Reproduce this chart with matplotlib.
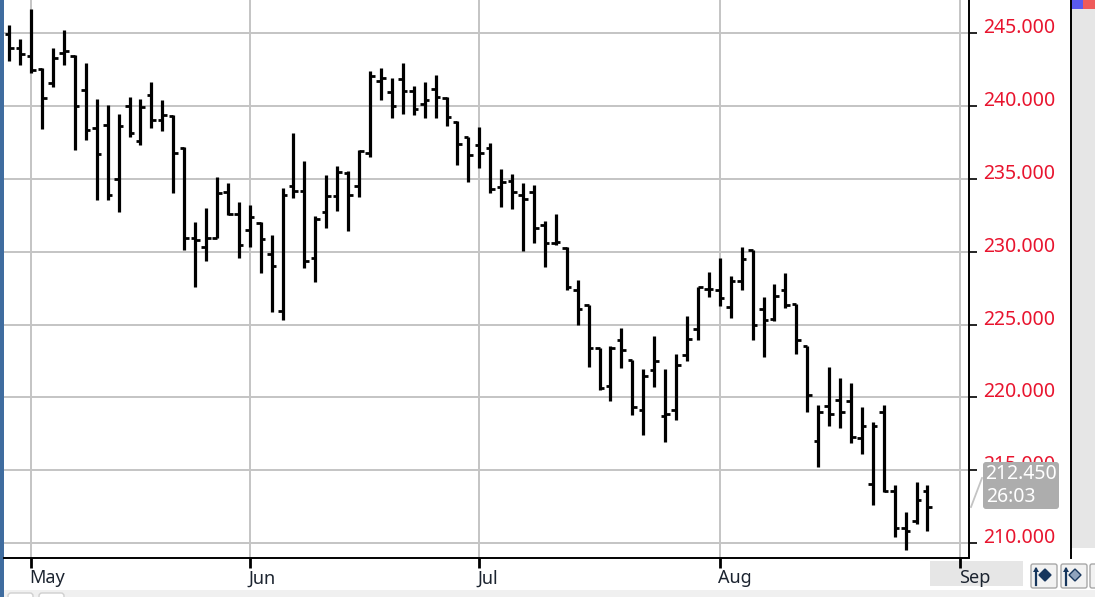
import matplotlib
matplotlib.use("Agg")
import matplotlib.pyplot as plt
from matplotlib.patches import Rectangle, FancyBboxPatch, Polygon
from matplotlib.transforms import ScaledTranslation

plt.rcParams['font.family'] = ['Noto Sans', 'DejaVu Sans']

# daily bars
highs = [245.57, 244.59, 246.65, 242.64, 243.97, 245.23, 243.51, 242.99, 240.51, 240.08,
         239.44, 240.63, 240.51, 241.68, 240.40, 239.42, 237.17, 232.05, 233.01, 235.14,
         234.73, 233.44, 233.21, 232.05, 231.16, 234.36, 238.14, 236.21, 232.44, 235.25,
         235.89, 235.55, 236.97, 242.44, 242.64, 241.91, 242.99, 241.38, 241.68, 242.12,
         240.61, 238.98, 237.91, 238.59, 237.49, 235.69, 235.36, 234.70, 234.61, 232.12,
         232.57, 230.31, 228.07, 226.33, 223.42, 223.56, 224.73, 222.57, 221.96, 224.22,
         221.96, 223.01, 225.59, 227.61, 228.59, 229.58, 228.36, 230.31, 230.11, 226.90,
         227.77, 228.53, 226.44, 223.55, 219.48, 222.08, 221.30, 220.98, 219.37, 218.29,
         219.48, 214.00, 212.14, 214.20, 214.00]
lows = [243.12, 242.80, 242.25, 238.41, 241.29, 242.80, 236.99, 237.65, 233.56, 233.56,
        232.73, 237.88, 237.31, 238.50, 238.30, 234.02, 230.15, 227.56, 229.39, 230.97,
        232.53, 229.60, 230.33, 228.52, 225.85, 225.32, 233.70, 228.87, 227.91, 231.66,
        232.83, 231.43, 233.79, 236.51, 240.45, 239.16, 239.49, 239.37, 239.16, 239.16,
        238.64, 235.94, 234.77, 235.73, 234.01, 233.05, 232.94, 230.03, 230.58, 228.98,
        230.45, 227.38, 225.00, 222.09, 220.49, 219.78, 222.00, 218.80, 217.38, 220.72,
        216.95, 218.46, 222.53, 223.92, 226.92, 226.28, 225.43, 227.36, 223.96, 222.77,
        225.25, 226.12, 222.97, 219.00, 215.21, 218.04, 217.90, 216.84, 216.08, 212.64,
        213.49, 210.39, 209.52, 211.33, 210.80]
opens = [244.95, 243.97, 243.44, 242.53, 241.61, 243.67, 243.47, 241.11, 238.52, 238.71,
         234.98, 240.01, 237.63, 240.77, 239.05, 239.30, 237.15, 230.97, 230.33, 230.97,
         234.11, 232.60, 231.52, 231.96, 229.83, 225.96, 234.54, 234.20, 229.60, 232.71,
         233.81, 235.44, 234.54, 236.76, 241.73, 241.00, 241.84, 241.06, 240.13, 241.20,
         240.58, 238.89, 237.88, 237.34, 237.13, 234.45, 234.86, 233.90, 234.13, 231.84,
         230.58, 230.29, 227.36, 226.31, 223.40, 220.79, 223.92, 222.55, 219.10, 221.87,
         218.75, 219.10, 222.94, 224.66, 227.47, 227.36, 226.19, 228.02, 230.09, 226.07,
         225.41, 227.38, 226.42, 223.52, 217.03, 219.41, 219.83, 219.74, 217.23, 214.02,
         218.98, 213.56, 211.01, 211.54, 213.56]
closes = [243.97, 243.56, 242.46, 240.54, 243.33, 243.79, 240.01, 238.39, 236.69, 233.88,
          238.62, 238.18, 239.92, 239.05, 239.37, 236.78, 230.97, 230.81, 230.97, 234.02,
          232.60, 230.45, 232.39, 230.90, 229.05, 233.92, 234.20, 229.39, 232.23, 233.81,
          235.50, 233.90, 236.92, 242.07, 241.96, 240.03, 241.06, 239.81, 240.45, 240.65,
          239.26, 237.43, 236.67, 236.79, 234.34, 234.77, 234.13, 233.60, 231.64, 230.58,
          230.70, 227.61, 226.08, 223.38, 220.61, 223.40, 223.28, 219.32, 221.45, 222.51,
          218.84, 222.21, 224.02, 227.56, 227.43, 226.83, 228.02, 229.49, 224.99, 225.34,
          226.95, 226.37, 223.94, 220.17, 218.98, 218.89, 218.98, 217.26, 218.01, 218.01,
          213.56, 211.01, 210.80, 212.96, 212.45]

price_ticks = [210, 215, 220, 225, 230, 235, 240, 245]
month_pos = [2, 22, 43, 65, 87]
month_names = ['May', 'Jun', 'Jul', 'Aug', 'Sep']
last_price = "212.450"
countdown = "26:03"

W, H = 1095, 597
fig = plt.figure(figsize=(W / 100, H / 100), dpi=100, facecolor='white')


def px_axes(zorder):
    a = fig.add_axes([0, 0, 1, 1], zorder=zorder)
    a.set_xlim(0, W)
    a.set_ylim(H, 0)
    a.axis('off')
    return a


# window chrome behind the chart
back = px_axes(0)
back.add_patch(Rectangle((0, 0), 3.5, H, color='#3f6c9f', lw=0))
back.add_patch(Rectangle((1071, 0), 24, 548, color='#e6e6e6', lw=0))
back.add_patch(Rectangle((1071, 0), 12, 9, color='#5a5aee', lw=0))
back.add_patch(Rectangle((1083, 0), 12, 9, color='#ee5a5a', lw=0))
back.add_patch(Rectangle((3.5, 590), W, 7, color='#f0f0f0', lw=0))
back.add_patch(Rectangle((930, 561), 93, 25, color='#e6e6e6', lw=0))
back.plot([1070.5, 1070.5], [0, 558], color='black', lw=1.4)
for bx, bw in [(8, 25), (39, 25)]:
    back.add_patch(FancyBboxPatch((bx, 593), bw, 10, boxstyle="round,pad=0,rounding_size=3",
                                  fc='white', ec='#cfcfcf', lw=1))
for bx in [1031, 1061, 1090]:
    back.add_patch(FancyBboxPatch((bx, 564), 26, 24, boxstyle="round,pad=0,rounding_size=2",
                                  fc='#f2f2f2', ec='#a8a8a8', lw=1))
for bx, fc in [(1045, '#17365d'), (1075, '#8fa3bd')]:
    back.add_patch(Polygon([(bx - 6, 575), (bx, 569), (bx + 6, 575), (bx, 581)], fc=fc, ec='#17365d', lw=1))
    back.plot([bx - 9, bx - 9], [569, 585], color='#17365d', lw=1.6)
    back.add_patch(Polygon([(bx - 12, 572), (bx - 9, 567), (bx - 6, 572)], fc='#17365d', lw=0))

# main price panel
ax = fig.add_axes([4 / W, 1 - 557.5 / H, 965 / W, 557.5 / H], zorder=1)
ax.patch.set_alpha(0)
days = list(range(len(closes)))
ax.set_xlim(-0.485, 87.8)
ax.set_ylim(209.0, 247.29)

ax.vlines(days, lows, highs, color='black', lw=2.3, zorder=3)
ax.hlines(opens, [d - 0.42 for d in days], days, color='black', lw=2.0, zorder=3)
ax.hlines(closes, days, [d + 0.42 for d in days], color='black', lw=2.0, zorder=3)

ax.grid(True, color='#c4c4c4', lw=1.4)
ax.set_axisbelow(True)
for side in ['top', 'left']:
    ax.spines[side].set_visible(False)
for side in ['right', 'bottom']:
    ax.spines[side].set_linewidth(1.4)
    ax.spines[side].set_color('black')

ax.yaxis.tick_right()
ax.set_yticks(price_ticks)
ax.set_yticklabels([f"{p:.3f}" for p in price_ticks])
ax.tick_params(axis='y', length=6, width=1.2, pad=4.5, labelsize=14, labelcolor='#e8142e')
ax.set_xticks(month_pos)
ax.set_xticklabels(month_names, ha='left')
ax.tick_params(axis='x', length=7, width=2, pad=1.5, labelsize=13, labelcolor='#1c2430')

# the price labels sit above their gridlines, month labels start at the tick
for lab in ax.get_yticklabels():
    lab.set_transform(lab.get_transform() + ScaledTranslation(0, 7.5 / 100, fig.dpi_scale_trans))
for lab in ax.get_xticklabels():
    lab.set_transform(lab.get_transform() + ScaledTranslation(-1.5 / 100, 0, fig.dpi_scale_trans))

# last price callout on top
top = px_axes(2)
top.plot([982, 971], [478, 507], color='#c4c4c4', lw=1.3)
top.add_patch(FancyBboxPatch((983, 462), 76, 47, boxstyle="round,pad=0,rounding_size=3",
                             fc='#adadad', ec='none'))
top.text(1021, 474, last_price, color='white', ha='center', va='center', fontsize=14)
top.text(986, 497, countdown, color='white', ha='left', va='center', fontsize=14)

fig.savefig('out.png', dpi=100)
